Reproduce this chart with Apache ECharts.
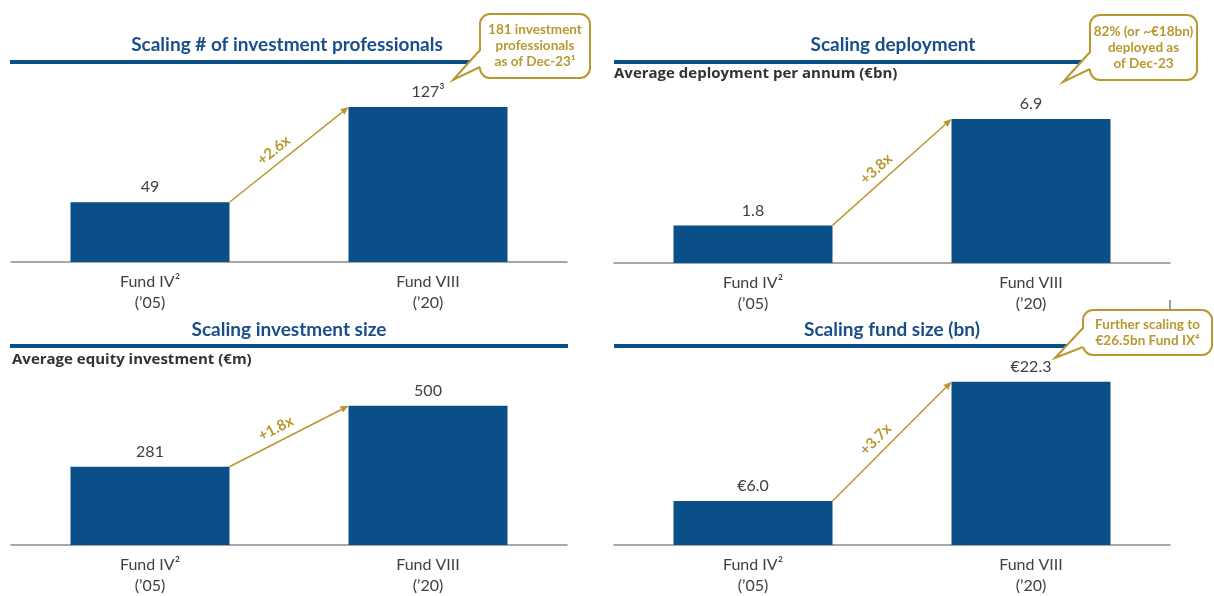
<!DOCTYPE html>
<html>
<head>
<meta charset="utf-8">
<script src="https://cdn.jsdelivr.net/npm/echarts@6/dist/echarts.min.js"></script>
<style>
  html, body { margin: 0; padding: 0; background: #fff; }
  #chart { width: 1214px; height: 596px; }
</style>
</head>
<body>
<div id="chart"></div>
<script>
// data
var categories = ['Fund IV²\n(’05)', 'Fund VIII\n(’20)'];
var professionals = [49, 127];
var professionalsLabels = ['49', '127³'];
var deployment = [1.8, 6.9];
var deploymentLabels = ['1.8', '6.9'];
var investmentSize = [281, 500];
var investmentSizeLabels = ['281', '500'];
var fundSize = [6.0, 22.3];
var fundSizeLabels = ['€6.0', '€22.3'];
var multiples = ['+2.6x', '+3.8x', '+1.8x', '+3.7x'];

var BLUE = '#0a4f87', GOLD = '#b8982f', FONT = 'Lato, "Noto Sans", sans-serif';
var WIDE = '"Open Sans", "Noto Sans", sans-serif';
var BAR_W = 159;

var chart = echarts.init(document.getElementById('chart'));

var grids = [
  { left: 11, top: 79, width: 556, height: 183 },
  { left: 614, top: 96, width: 556, height: 167 },
  { left: 11, top: 378, width: 556, height: 168 },
  { left: 614, top: 362, width: 556, height: 184 }
];
var maxes = [150, 8, 600, 25];
var values = [professionals, deployment, investmentSize, fundSize];
var labels = [professionalsLabels, deploymentLabels, investmentSizeLabels, fundSizeLabels];

function arrowItem(params, api) {
  var p0 = api.coord([api.value(0), api.value(1)]);
  var p1 = api.coord([api.value(2), api.value(3)]);
  var x0 = p0[0] + BAR_W / 2, y0 = p0[1];
  var x1 = p1[0] - BAR_W / 2, y1 = p1[1];
  var dx = x1 - x0, dy = y1 - y0, len = Math.sqrt(dx * dx + dy * dy);
  var ux = dx / len, uy = dy / len;
  var hl = 8, hw = 3.5;
  var bx = x1 - ux * hl, by = y1 - uy * hl;
  var ang = Math.atan2(-dy, dx);
  var tx = x0 + dx * 0.44 + uy * 13, ty = y0 + dy * 0.44 - ux * 13;
  return {
    type: 'group',
    children: [
      { type: 'line', shape: { x1: x0, y1: y0, x2: bx, y2: by }, style: { stroke: GOLD, lineWidth: 1.5 } },
      { type: 'polygon', shape: { points: [[x1, y1], [bx - uy * hw, by + ux * hw], [bx + uy * hw, by - ux * hw]] }, style: { fill: GOLD } },
      { type: 'text', x: tx, y: ty, rotation: ang,
        style: { text: multiples[params.seriesIndex - 4], fill: GOLD, font: 'bold 15px ' + FONT, textAlign: 'center', textVerticalAlign: 'middle' } }
    ]
  };
}

var xAxes = [], yAxes = [], series = [], arrows = [];
for (var i = 0; i < 4; i++) {
  xAxes.push({
    gridIndex: i, type: 'category', data: categories,
    axisLine: { lineStyle: { color: '#8a8a8a', width: 1.5 } },
    axisTick: { show: false },
    axisLabel: { color: '#404040', fontFamily: FONT, fontSize: 16, lineHeight: 21, margin: 9 }
  });
  yAxes.push({ gridIndex: i, type: 'value', min: 0, max: maxes[i], show: false, splitLine: { show: false } });
  (function (idx) {
    series.push({
      type: 'bar', xAxisIndex: idx, yAxisIndex: idx, data: values[idx], barWidth: BAR_W,
      itemStyle: { color: BLUE },
      label: { show: true, position: 'top', distance: 7, color: '#404040', fontFamily: FONT, fontSize: 16,
        formatter: function (p) { return labels[idx][p.dataIndex]; } },
      silent: true
    });
  })(i);
  arrows.push({
    type: 'custom', xAxisIndex: i, yAxisIndex: i, clip: false, silent: true, z: 5,
    data: [[0, values[i][0], 1, values[i][1]]],
    encode: { x: [0, 2], y: [1, 3] },
    renderItem: arrowItem
  });
}

function title(text, x, y) {
  return { type: 'text', x: x, y: y, style: { text: text, fill: '#1a4e8a', font: 'bold 19px ' + FONT, textAlign: 'center', textVerticalAlign: 'middle' } };
}
function subtitle(text, x, y) {
  return { type: 'text', x: x, y: y, style: { text: text, fill: '#333', font: 'bold 15px ' + WIDE, textAlign: 'left', textVerticalAlign: 'middle' } };
}
function rule(x1, x2, y) {
  return { type: 'line', shape: { x1: x1, y1: y, x2: x2, y2: y }, style: { stroke: BLUE, lineWidth: 4 } };
}
function callout(bx, by, bw, bh, ty1, ty2, tip, text) {
  return [
    { type: 'rect', z: 10, shape: { x: bx, y: by, width: bw, height: bh, r: 10 }, style: { fill: '#fff', stroke: GOLD, lineWidth: 2 } },
    { type: 'polygon', z: 11, shape: { points: [[bx + 1.5, ty1], tip, [bx + 1.5, ty2]] }, style: { fill: '#fff' } },
    { type: 'polyline', z: 12, shape: { points: [[bx, ty1], tip, [bx, ty2]] }, style: { stroke: GOLD, lineWidth: 2, fill: null } },
    { type: 'text', z: 13, x: bx + bw / 2, y: by + bh / 2, style: { text: text, fill: GOLD, font: 'bold 13.5px ' + FONT, lineHeight: 16, textAlign: 'center', textVerticalAlign: 'middle' } }
  ];
}

var graphics = [
  rule(10, 478, 62), rule(614, 1092, 62), rule(10, 568, 346), rule(614, 1085, 346),
  title('Scaling # of investment professionals', 287, 45),
  title('Scaling deployment', 893, 45),
  title('Scaling investment size', 289, 330),
  title('Scaling fund size (bn)', 892, 330),
  subtitle('Average deployment per annum (€bn)', 614, 74),
  subtitle('Average equity investment (€m)', 12, 360),
  { type: 'line', shape: { x1: 1170, y1: 300, x2: 1170, y2: 312 }, style: { stroke: BLUE, lineWidth: 1 } }
].concat(
  callout(480, 14, 110, 64, 50, 67, [453, 80], '181 investment\nprofessionals\nas of Dec-23¹'),
  callout(1090, 15, 107, 65, 52, 69, [1063, 82], '82% (or ~€18bn)\ndeployed as\nof Dec-23'),
  callout(1083, 310, 129, 45, 328, 347, [1055, 358], 'Further scaling to\n€26.5bn Fund IX⁴')
);

chart.setOption({
  animation: false,
  grid: grids,
  xAxis: xAxes,
  yAxis: yAxes,
  series: series.concat(arrows),
  graphic: graphics
});
</script>
</body>
</html>
